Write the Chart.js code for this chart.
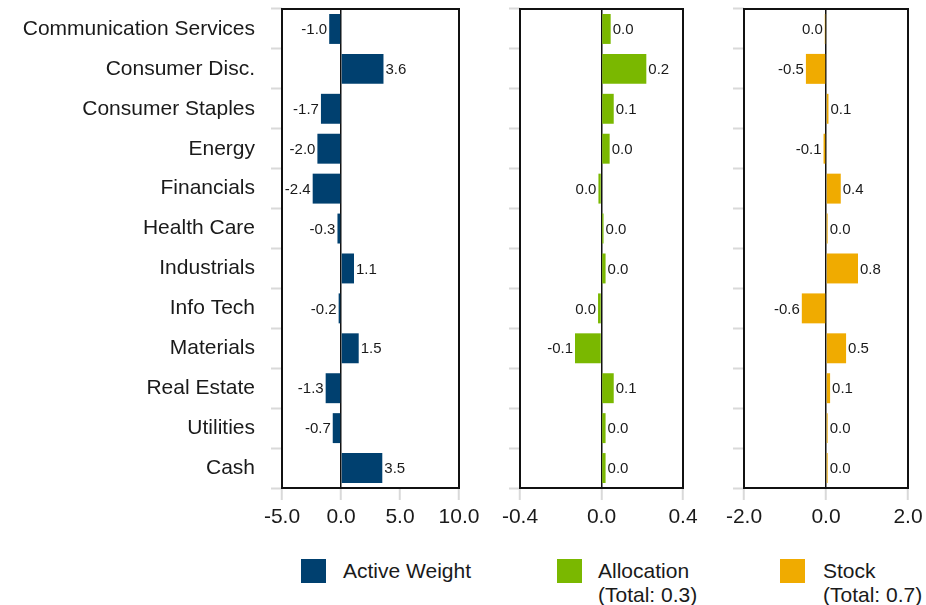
<!DOCTYPE html>
<html>
<head>
<meta charset="utf-8">
<script src="https://cdn.jsdelivr.net/npm/chart.js@4.4.1/dist/chart.umd.min.js"></script>
<style>
  html, body { margin: 0; padding: 0; background: #fff; }
  #wrap { position: relative; width: 926px; height: 605px; overflow: hidden; font-family: "Liberation Sans", Arial, sans-serif; color: #1a1a1a; }
  canvas { position: absolute; top: 0; }
  .sw { position: absolute; width: 25px; height: 24px; top: 559px; }
  .lg { position: absolute; top: 559px; font-size: 21px; line-height: 24px; }
</style>
</head>
<body>
<div id="wrap">
  <canvas id="c1" width="490" height="540" style="left:0"></canvas>
  <canvas id="c2" width="230" height="540" style="left:490px"></canvas>
  <canvas id="c3" width="206" height="540" style="left:720px"></canvas>

  <div class="sw" style="left:301px;background:#00406f"></div>
  <div class="lg" style="left:343px">Active Weight</div>
  <div class="sw" style="left:557px;background:#7ab800"></div>
  <div class="lg" style="left:598px">Allocation<br>(Total: 0.3)</div>
  <div class="sw" style="left:780px;background:#f0ab00"></div>
  <div class="lg" style="left:823px">Stock<br>(Total: 0.7)</div>
</div>
<script>
// Sector rows, top to bottom
const categories = ['Communication Services', 'Consumer Disc.', 'Consumer Staples', 'Energy',
    'Financials', 'Health Care', 'Industrials', 'Info Tech', 'Materials', 'Real Estate',
    'Utilities', 'Cash'];

const activeWeight = [-1.0, 3.6, -1.7, -2.0, -2.4, -0.3, 1.1, -0.2, 1.5, -1.3, -0.7, 3.5];
const allocation   = [0.045, 0.22, 0.06, 0.04, -0.015, 0.01, 0.02, -0.017, -0.13, 0.06, 0.02, 0.02];
const stock        = [-0.03, -0.49, 0.06, -0.06, 0.36, 0.04, 0.78, -0.59, 0.49, 0.1, 0.04, 0.04];

const ticksActive = [-5, 0, 5, 10];
const ticksAlloc  = [-0.4, 0, 0.4];
const ticksStock  = [-2, 0, 2];

const colors = {
    navy: '#00406f',
    green: '#7ab800',
    gold: '#f0ab00',
    text: '#1a1a1a',
    tick: '#d9d9d9'
};
const FONT = "'Liberation Sans', Arial, sans-serif";

function fmt(v) {
    const s = v.toFixed(1);
    return s === '-0.0' ? '0.0' : s;
}

// value labels at the bar ends + box around plot area
const barLabels = {
    id: 'barLabels',
    afterDatasetsDraw(chart) {
        const ctx = chart.ctx;
        const meta = chart.getDatasetMeta(0);
        const vals = chart.data.datasets[0].data;
        ctx.save();
        ctx.font = '15px ' + FONT;
        ctx.fillStyle = colors.text;
        ctx.textBaseline = 'middle';
        meta.data.forEach((bar, i) => {
            const v = vals[i];
            if (v < 0) {
                ctx.textAlign = 'right';
                ctx.fillText(fmt(v), bar.x - 2, bar.y + 1);
            } else {
                ctx.textAlign = 'left';
                ctx.fillText(fmt(v), bar.x + 2, bar.y + 1);
            }
        });
        ctx.restore();
    },
    afterDraw(chart) {
        const a = chart.chartArea;
        const ctx = chart.ctx;
        ctx.save();
        ctx.strokeStyle = '#111';
        ctx.lineWidth = 2;
        ctx.strokeRect(a.left, a.top, a.right - a.left, a.bottom - a.top);
        ctx.restore();
    }
};

function makeChart(id, values, color, tickVals, yWidth, padRight, showCats) {
    return new Chart(document.getElementById(id), {
        type: 'bar',
        data: {
            labels: categories,
            datasets: [{
                data: values,
                backgroundColor: color,
                borderWidth: 0,
                barPercentage: 0.75,
                categoryPercentage: 1
            }]
        },
        options: {
            indexAxis: 'y',
            responsive: false,
            animation: false,
            layout: { padding: { top: 9, right: padRight, left: 0, bottom: 0 } },
            plugins: { legend: { display: false }, tooltip: { enabled: false } },
            scales: {
                x: {
                    min: tickVals[0],
                    max: tickVals[tickVals.length - 1],
                    afterBuildTicks: s => { s.ticks = tickVals.map(v => ({ value: v })); },
                    afterFit: s => {
                        s.height = 52;
                        s.paddingLeft = s.paddingRight = s.paddingTop = s.paddingBottom = 0;
                    },
                    border: { display: false },
                    grid: {
                        color: c => c.tick && c.tick.value === 0 ? '#111' : 'rgba(0,0,0,0)',
                        lineWidth: 1.5,
                        tickColor: colors.tick,
                        tickWidth: 2,
                        tickLength: 12
                    },
                    ticks: {
                        padding: 5,
                        color: colors.text,
                        font: { family: FONT, size: 21 },
                        callback: v => v.toFixed(1),
                        maxRotation: 0,
                        autoSkip: false
                    }
                },
                y: {
                    afterFit: s => {
                        s.width = yWidth;
                        s.paddingLeft = s.paddingRight = s.paddingTop = s.paddingBottom = 0;
                    },
                    border: { display: false },
                    grid: {
                        color: 'rgba(0,0,0,0)',
                        tickColor: colors.tick,
                        tickWidth: 2,
                        tickLength: 11
                    },
                    ticks: {
                        display: showCats,
                        padding: 16,
                        color: colors.text,
                        font: { family: FONT, size: 21 },
                        autoSkip: false
                    }
                }
            }
        },
        plugins: [barLabels]
    });
}

makeChart('c1', activeWeight, colors.navy, ticksActive, 282, 31, true);
makeChart('c2', allocation, colors.green, ticksAlloc, 30, 37, false);
makeChart('c3', stock, colors.gold, ticksStock, 24, 18, false);
</script>
</body>
</html>
